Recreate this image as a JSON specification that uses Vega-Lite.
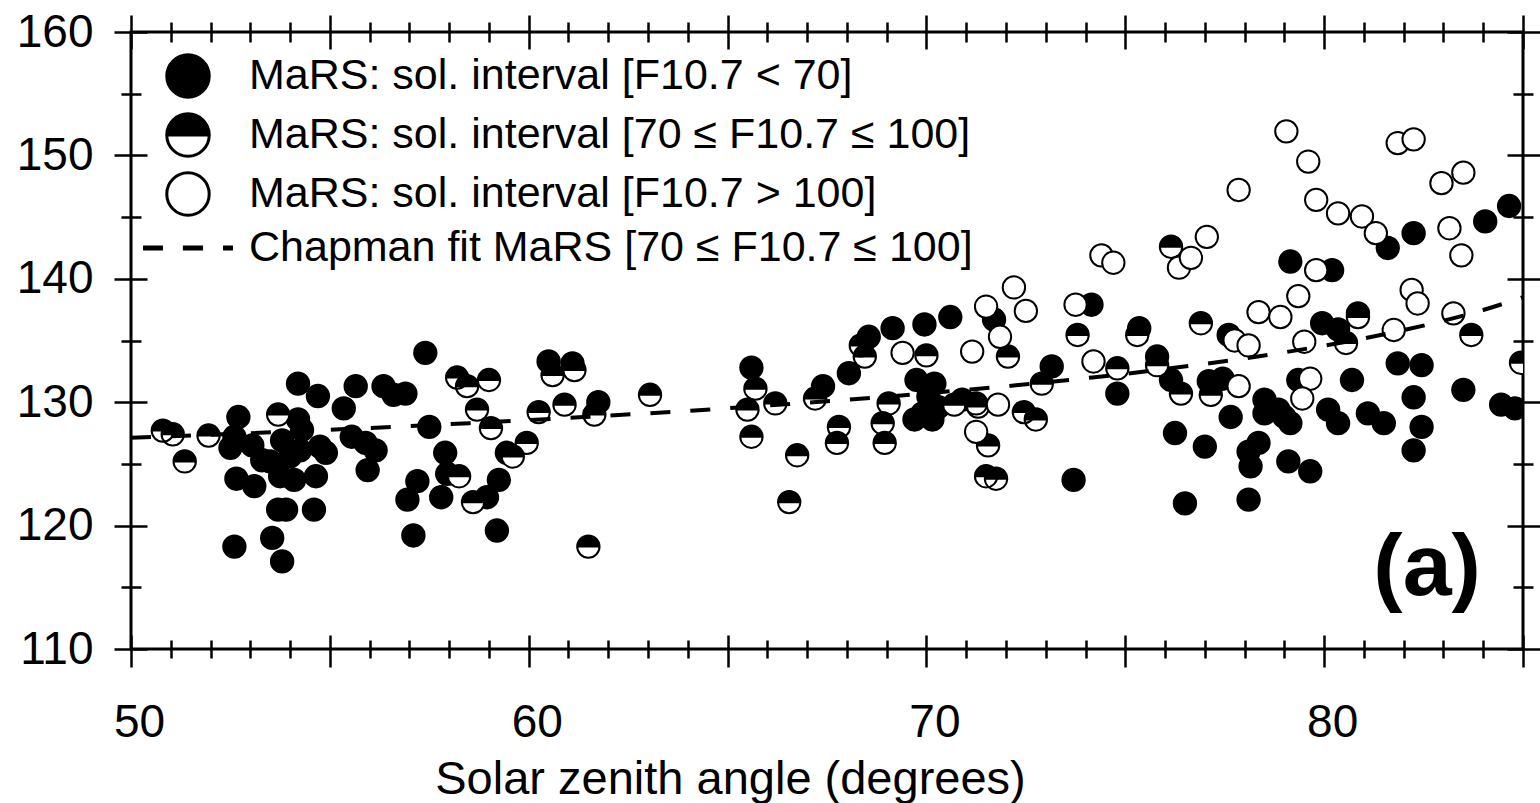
{
  "$schema": "https://vega.github.io/schema/vega-lite/v6.json",
  "width": 1392,
  "height": 617,
  "autosize": {"type": "none"},
  "padding": {"left": 131, "top": 32, "right": 17, "bottom": 154},
  "background": "white",
  "config": {
    "font": "Liberation Sans",
    "view": {"stroke": "black", "strokeWidth": 3},
    "axis": {"tickColor": "black", "tickWidth": 2.5, "labelColor": "black", "titleColor": "black", "domain": false, "grid": false, "tickCap": "butt"}
  },
  "datasets": {
    "pts": [
      {"sza": 52.7, "h": 128.8, "f": "lo"}, {"sza": 52.6, "h": 127.2, "f": "lo"}, {"sza": 53.05, "h": 126.5, "f": "lo"}, {"sza": 52.5, "h": 126.3, "f": "lo"},
      {"sza": 53.3, "h": 125.3, "f": "lo"}, {"sza": 52.65, "h": 123.8, "f": "lo"}, {"sza": 53.1, "h": 123.2, "f": "lo"}, {"sza": 53.5, "h": 125.2, "f": "lo"},
      {"sza": 53.7, "h": 121.3, "f": "lo"}, {"sza": 53.9, "h": 121.3, "f": "lo"}, {"sza": 54.6, "h": 121.3, "f": "lo"}, {"sza": 52.6, "h": 118.3, "f": "lo"},
      {"sza": 53.55, "h": 119.0, "f": "lo"}, {"sza": 53.8, "h": 117.1, "f": "lo"}, {"sza": 54.2, "h": 131.5, "f": "lo"}, {"sza": 54.7, "h": 130.5, "f": "lo"},
      {"sza": 55.65, "h": 131.3, "f": "lo"}, {"sza": 55.35, "h": 129.5, "f": "lo"}, {"sza": 56.35, "h": 131.3, "f": "lo"}, {"sza": 56.6, "h": 130.6, "f": "lo"},
      {"sza": 56.9, "h": 130.7, "f": "lo"}, {"sza": 57.4, "h": 134.0, "f": "lo"}, {"sza": 57.5, "h": 128.0, "f": "lo"}, {"sza": 57.9, "h": 125.9, "f": "lo"},
      {"sza": 57.2, "h": 123.6, "f": "lo"}, {"sza": 56.95, "h": 122.1, "f": "lo"}, {"sza": 57.1, "h": 119.2, "f": "lo"}, {"sza": 57.8, "h": 122.3, "f": "lo"},
      {"sza": 57.95, "h": 124.2, "f": "lo"}, {"sza": 59.2, "h": 119.6, "f": "lo"}, {"sza": 59.25, "h": 123.7, "f": "lo"}, {"sza": 58.95, "h": 122.3, "f": "lo"},
      {"sza": 59.45, "h": 125.9, "f": "lo"}, {"sza": 54.2, "h": 128.6, "f": "lo"}, {"sza": 54.3, "h": 127.75, "f": "lo"}, {"sza": 53.8, "h": 126.9, "f": "lo"},
      {"sza": 54.0, "h": 125.6, "f": "lo"}, {"sza": 54.25, "h": 126.1, "f": "lo"}, {"sza": 54.75, "h": 126.4, "f": "lo"}, {"sza": 54.9, "h": 125.9, "f": "lo"},
      {"sza": 54.1, "h": 123.7, "f": "lo"}, {"sza": 54.65, "h": 124.0, "f": "lo"}, {"sza": 53.75, "h": 124.0, "f": "lo"}, {"sza": 55.55, "h": 127.2, "f": "lo"},
      {"sza": 55.9, "h": 126.7, "f": "lo"}, {"sza": 56.15, "h": 126.1, "f": "lo"}, {"sza": 55.95, "h": 124.5, "f": "lo"},
      {"sza": 60.5, "h": 133.3, "f": "lo"}, {"sza": 61.1, "h": 133.15, "f": "lo"}, {"sza": 61.75, "h": 130.0, "f": "lo"}, {"sza": 65.6, "h": 132.8, "f": "lo"},
      {"sza": 67.4, "h": 131.3, "f": "lo"}, {"sza": 68.05, "h": 132.35, "f": "lo"}, {"sza": 68.55, "h": 135.3, "f": "lo"}, {"sza": 69.15, "h": 136.0, "f": "lo"},
      {"sza": 69.95, "h": 136.3, "f": "lo"}, {"sza": 70.6, "h": 136.9, "f": "lo"}, {"sza": 69.75, "h": 131.8, "f": "lo"}, {"sza": 70.2, "h": 131.5, "f": "lo"},
      {"sza": 69.9, "h": 129.1, "f": "lo"}, {"sza": 70.15, "h": 128.6, "f": "lo"}, {"sza": 70.3, "h": 129.6, "f": "lo"}, {"sza": 69.7, "h": 128.6, "f": "lo"},
      {"sza": 70.05, "h": 130.45, "f": "lo"}, {"sza": 71.7, "h": 136.7, "f": "lo"}, {"sza": 70.9, "h": 130.2, "f": "lo"},
      {"sza": 73.15, "h": 132.9, "f": "lo"}, {"sza": 74.15, "h": 137.9, "f": "lo"}, {"sza": 74.8, "h": 130.7, "f": "lo"}, {"sza": 75.35, "h": 136.0, "f": "lo"},
      {"sza": 75.8, "h": 133.7, "f": "lo"}, {"sza": 76.15, "h": 131.8, "f": "lo"}, {"sza": 76.25, "h": 127.5, "f": "lo"}, {"sza": 76.5, "h": 121.8, "f": "lo"},
      {"sza": 77.1, "h": 131.7, "f": "lo"}, {"sza": 77.0, "h": 126.4, "f": "lo"}, {"sza": 77.6, "h": 135.45, "f": "lo"}, {"sza": 77.65, "h": 128.8, "f": "lo"},
      {"sza": 78.1, "h": 126.0, "f": "lo"}, {"sza": 78.15, "h": 124.8, "f": "lo"}, {"sza": 78.1, "h": 122.1, "f": "lo"}, {"sza": 78.35, "h": 126.7, "f": "lo"},
      {"sza": 77.45, "h": 131.9, "f": "lo"}, {"sza": 78.5, "h": 130.2, "f": "lo"}, {"sza": 78.85, "h": 129.4, "f": "lo"}, {"sza": 79.15, "h": 128.3, "f": "lo"},
      {"sza": 79.0, "h": 128.8, "f": "lo"}, {"sza": 78.5, "h": 129.1, "f": "lo"}, {"sza": 79.1, "h": 125.2, "f": "lo"}, {"sza": 79.65, "h": 124.4, "f": "lo"},
      {"sza": 79.35, "h": 131.8, "f": "lo"}, {"sza": 79.95, "h": 136.4, "f": "lo"}, {"sza": 80.35, "h": 135.9, "f": "lo"}, {"sza": 80.85, "h": 137.2, "f": "lo"},
      {"sza": 80.7, "h": 131.8, "f": "lo"}, {"sza": 80.1, "h": 129.4, "f": "lo"}, {"sza": 80.35, "h": 128.3, "f": "lo"}, {"sza": 81.1, "h": 129.1, "f": "lo"},
      {"sza": 81.5, "h": 128.3, "f": "lo"}, {"sza": 81.85, "h": 133.15, "f": "lo"}, {"sza": 82.45, "h": 133.0, "f": "lo"}, {"sza": 82.25, "h": 130.4, "f": "lo"},
      {"sza": 82.45, "h": 128.0, "f": "lo"}, {"sza": 82.25, "h": 126.1, "f": "lo"}, {"sza": 83.5, "h": 131.0, "f": "lo"}, {"sza": 84.45, "h": 129.8, "f": "lo"},
      {"sza": 84.8, "h": 129.5, "f": "lo"}, {"sza": 73.7, "h": 123.7, "f": "lo"}, {"sza": 81.6, "h": 142.5, "f": "lo"}, {"sza": 82.25, "h": 143.7, "f": "lo"},
      {"sza": 84.05, "h": 144.65, "f": "lo"}, {"sza": 84.65, "h": 145.9, "f": "lo"}, {"sza": 79.15, "h": 141.4, "f": "lo"}, {"sza": 80.2, "h": 140.7, "f": "lo"},
      {"sza": 50.8, "h": 127.7, "f": "mid"}, {"sza": 51.05, "h": 127.4, "f": "mid"}, {"sza": 51.35, "h": 125.2, "f": "mid"}, {"sza": 51.95, "h": 127.3, "f": "mid"},
      {"sza": 53.7, "h": 129.0, "f": "mid"}, {"sza": 58.2, "h": 132.0, "f": "mid"}, {"sza": 58.45, "h": 131.3, "f": "mid"}, {"sza": 59.0, "h": 131.8, "f": "mid"},
      {"sza": 58.7, "h": 129.4, "f": "mid"}, {"sza": 59.05, "h": 127.9, "f": "mid"}, {"sza": 58.25, "h": 124.0, "f": "mid"}, {"sza": 58.6, "h": 121.9, "f": "mid"},
      {"sza": 59.95, "h": 126.7, "f": "mid"}, {"sza": 59.6, "h": 125.6, "f": "mid"},
      {"sza": 60.25, "h": 129.2, "f": "mid"}, {"sza": 60.6, "h": 132.2, "f": "mid"}, {"sza": 61.15, "h": 132.6, "f": "mid"}, {"sza": 60.9, "h": 129.8, "f": "mid"},
      {"sza": 61.65, "h": 129.0, "f": "mid"}, {"sza": 61.5, "h": 118.3, "f": "mid"}, {"sza": 63.05, "h": 130.6, "f": "mid"}, {"sza": 65.7, "h": 131.1, "f": "mid"},
      {"sza": 65.5, "h": 129.4, "f": "mid"}, {"sza": 65.6, "h": 127.2, "f": "mid"}, {"sza": 66.2, "h": 129.9, "f": "mid"}, {"sza": 66.55, "h": 121.9, "f": "mid"},
      {"sza": 66.75, "h": 125.7, "f": "mid"}, {"sza": 67.2, "h": 130.3, "f": "mid"}, {"sza": 68.35, "h": 134.6, "f": "mid"}, {"sza": 68.45, "h": 133.7, "f": "mid"},
      {"sza": 70.0, "h": 133.8, "f": "mid"}, {"sza": 69.05, "h": 129.9, "f": "mid"}, {"sza": 68.9, "h": 128.3, "f": "mid"}, {"sza": 68.95, "h": 126.7, "f": "mid"},
      {"sza": 67.8, "h": 128.0, "f": "mid"}, {"sza": 67.75, "h": 126.7, "f": "mid"}, {"sza": 72.05, "h": 133.7, "f": "mid"}, {"sza": 71.25, "h": 129.9, "f": "mid"},
      {"sza": 71.55, "h": 126.5, "f": "mid"}, {"sza": 71.5, "h": 124.0, "f": "mid"}, {"sza": 71.75, "h": 123.8, "f": "mid"}, {"sza": 70.7, "h": 129.8, "f": "mid"},
      {"sza": 71.3, "h": 129.65, "f": "mid"}, {"sza": 72.9, "h": 131.5, "f": "mid"}, {"sza": 72.45, "h": 129.2, "f": "mid"}, {"sza": 72.75, "h": 128.6, "f": "mid"},
      {"sza": 73.8, "h": 135.45, "f": "mid"}, {"sza": 74.8, "h": 132.75, "f": "mid"}, {"sza": 75.3, "h": 135.45, "f": "mid"}, {"sza": 75.8, "h": 133.0, "f": "mid"},
      {"sza": 76.4, "h": 130.7, "f": "mid"}, {"sza": 76.9, "h": 136.4, "f": "mid"}, {"sza": 77.15, "h": 130.6, "f": "mid"}, {"sza": 80.55, "h": 134.8, "f": "mid"},
      {"sza": 80.85, "h": 136.9, "f": "mid"}, {"sza": 83.7, "h": 135.45, "f": "mid"}, {"sza": 84.95, "h": 133.2, "f": "mid"}, {"sza": 76.15, "h": 142.6, "f": "mid"},
      {"sza": 69.4, "h": 134.0, "f": "hi"}, {"sza": 71.15, "h": 134.1, "f": "hi"}, {"sza": 71.5, "h": 137.75, "f": "hi"}, {"sza": 71.85, "h": 135.3, "f": "hi"},
      {"sza": 71.8, "h": 129.8, "f": "hi"}, {"sza": 71.25, "h": 127.6, "f": "hi"}, {"sza": 72.2, "h": 139.3, "f": "hi"}, {"sza": 72.5, "h": 137.4, "f": "hi"},
      {"sza": 73.75, "h": 137.9, "f": "hi"}, {"sza": 74.2, "h": 133.3, "f": "hi"}, {"sza": 77.75, "h": 135.0, "f": "hi"}, {"sza": 78.1, "h": 134.6, "f": "hi"},
      {"sza": 78.35, "h": 137.3, "f": "hi"}, {"sza": 78.9, "h": 136.9, "f": "hi"}, {"sza": 79.35, "h": 138.6, "f": "hi"}, {"sza": 77.85, "h": 131.3, "f": "hi"},
      {"sza": 79.65, "h": 131.9, "f": "hi"}, {"sza": 79.45, "h": 130.3, "f": "hi"}, {"sza": 79.5, "h": 134.9, "f": "hi"}, {"sza": 81.75, "h": 135.85, "f": "hi"},
      {"sza": 82.2, "h": 139.1, "f": "hi"}, {"sza": 82.35, "h": 138.0, "f": "hi"}, {"sza": 83.25, "h": 137.2, "f": "hi"}, {"sza": 79.05, "h": 151.95, "f": "hi"},
      {"sza": 79.6, "h": 149.5, "f": "hi"}, {"sza": 77.85, "h": 147.2, "f": "hi"}, {"sza": 81.85, "h": 151.0, "f": "hi"}, {"sza": 82.25, "h": 151.3, "f": "hi"},
      {"sza": 82.95, "h": 147.75, "f": "hi"}, {"sza": 83.5, "h": 148.6, "f": "hi"}, {"sza": 79.8, "h": 146.4, "f": "hi"}, {"sza": 80.35, "h": 145.3, "f": "hi"},
      {"sza": 80.95, "h": 145.05, "f": "hi"}, {"sza": 81.3, "h": 143.7, "f": "hi"}, {"sza": 83.15, "h": 144.1, "f": "hi"}, {"sza": 83.45, "h": 141.9, "f": "hi"},
      {"sza": 79.8, "h": 140.7, "f": "hi"}, {"sza": 76.35, "h": 140.9, "f": "hi"}, {"sza": 76.65, "h": 141.7, "f": "hi"}, {"sza": 77.05, "h": 143.4, "f": "hi"},
      {"sza": 74.4, "h": 141.9, "f": "hi"}, {"sza": 74.7, "h": 141.3, "f": "hi"}
    ],
    "fit": [
      {"sza": 50, "h": 127.12}, {"sza": 51, "h": 127.24}, {"sza": 52, "h": 127.37}, {"sza": 53, "h": 127.49}, {"sza": 54, "h": 127.63},
      {"sza": 55, "h": 127.77}, {"sza": 56, "h": 127.91}, {"sza": 57, "h": 128.06}, {"sza": 58, "h": 128.22}, {"sza": 59, "h": 128.38},
      {"sza": 60, "h": 128.55}, {"sza": 61, "h": 128.73}, {"sza": 62, "h": 128.91}, {"sza": 63, "h": 129.1}, {"sza": 64, "h": 129.3},
      {"sza": 65, "h": 129.51}, {"sza": 66, "h": 129.73}, {"sza": 67, "h": 129.96}, {"sza": 68, "h": 130.2}, {"sza": 69, "h": 130.45},
      {"sza": 70, "h": 130.72}, {"sza": 71, "h": 131.0}, {"sza": 72, "h": 131.29}, {"sza": 73, "h": 131.61}, {"sza": 74, "h": 131.95},
      {"sza": 75, "h": 132.3}, {"sza": 76, "h": 132.69}, {"sza": 77, "h": 133.1}, {"sza": 78, "h": 133.55}, {"sza": 79, "h": 134.04},
      {"sza": 80, "h": 134.58}, {"sza": 81, "h": 135.17}, {"sza": 82, "h": 135.84}, {"sza": 83, "h": 136.6}, {"sza": 84, "h": 137.47},
      {"sza": 85, "h": 138.51}
    ]
  },
  "layer": [
    {
      "data": {"name": "pts"},
      "transform": [{"filter": "datum.f === 'lo'"}],
      "mark": {"type": "point", "filled": true, "size": 500, "stroke": "black", "strokeWidth": 2, "opacity": 1, "clip": true},
      "encoding": {
        "x": {"field": "sza", "type": "quantitative", "scale": {"domain": [50, 85], "nice": false, "zero": false},
              "axis": {"orient": "bottom", "values": [51,52,53,54,56,57,58,59,61,62,63,64,66,67,68,69,71,72,73,74,76,77,78,79,81,82,83,84], "offset": -9, "tickSize": 18, "labels": false, "title": null}},
        "y": {"field": "h", "type": "quantitative", "scale": {"domain": [110, 160], "nice": false, "zero": false},
              "axis": {"orient": "left", "values": [115,125,135,145,155], "offset": -10, "tickSize": 20, "labels": false, "title": null}},
        "fill": {
          "field": "f", "type": "nominal",
          "scale": {"domain": ["lo", "mid", "hi", "fit"], "range": ["black", "black", "white", "black"]},
          "legend": {
            "title": null, "orient": "none", "legendX": 34, "legendY": 21, "padding": 0, "rowPadding": 3,
            "labelExpr": "datum.value === 'lo' ? 'MaRS: sol. interval [F10.7 < 70]' : datum.value === 'mid' ? 'MaRS: sol. interval [70 ≤ F10.7 ≤ 100]' : datum.value === 'hi' ? 'MaRS: sol. interval [F10.7 > 100]' : 'Chapman fit MaRS [70 ≤ F10.7 ≤ 100]'",
            "labelFont": "Liberation Sans", "labelFontSize": 43, "labelColor": "black", "labelOffset": 38, "labelLimit": 0,
            "symbolSize": 1800, "symbolStrokeWidth": 3, "symbolOpacity": 1
          }
        },
        "stroke": {
          "field": "f", "type": "nominal",
          "scale": {"domain": ["lo", "mid", "hi", "fit"], "range": ["black", "black", "black", "black"]},
          "legend": {
            "title": null, "orient": "none", "legendX": 34, "legendY": 21, "padding": 0, "rowPadding": 3,
            "labelExpr": "datum.value === 'lo' ? 'MaRS: sol. interval [F10.7 < 70]' : datum.value === 'mid' ? 'MaRS: sol. interval [70 ≤ F10.7 ≤ 100]' : datum.value === 'hi' ? 'MaRS: sol. interval [F10.7 > 100]' : 'Chapman fit MaRS [70 ≤ F10.7 ≤ 100]'",
            "labelFont": "Liberation Sans", "labelFontSize": 43, "labelColor": "black", "labelOffset": 38, "labelLimit": 0,
            "symbolSize": 1800, "symbolStrokeWidth": 3, "symbolOpacity": 1
          }
        },
        "shape": {
          "field": "f", "type": "nominal",
          "scale": {"domain": ["lo", "mid", "hi", "fit"], "range": [
            "circle",
            "M -1 0 A 1 1 0 0 1 1 0 Z M -1 0 A 1 1 0 0 0 1 0 A 1 1 0 0 1 -1 0 Z",
            "circle",
            "M -2.05 -0.05 L -1.25 -0.05 L -1.25 0.05 L -2.05 0.05 Z M -0.17 -0.05 L 0.64 -0.05 L 0.64 0.05 L -0.17 0.05 Z M 1.72 -0.05 L 2.05 -0.05 L 2.05 0.05 L 1.72 0.05 Z"
          ]},
          "legend": {
            "title": null, "orient": "none", "legendX": 34, "legendY": 21, "padding": 0, "rowPadding": 3,
            "labelExpr": "datum.value === 'lo' ? 'MaRS: sol. interval [F10.7 < 70]' : datum.value === 'mid' ? 'MaRS: sol. interval [70 ≤ F10.7 ≤ 100]' : datum.value === 'hi' ? 'MaRS: sol. interval [F10.7 > 100]' : 'Chapman fit MaRS [70 ≤ F10.7 ≤ 100]'",
            "labelFont": "Liberation Sans", "labelFontSize": 43, "labelColor": "black", "labelOffset": 38, "labelLimit": 0,
            "symbolSize": 1800, "symbolStrokeWidth": 3, "symbolOpacity": 1
          }
        }
      }
    },
    {
      "data": {"name": "pts"},
      "transform": [{"filter": "datum.f === 'mid'"}],
      "mark": {"type": "point", "shape": "circle", "filled": true, "size": 500, "fill": "white", "strokeWidth": 0, "opacity": 1, "clip": true},
      "encoding": {
        "x": {"field": "sza", "type": "quantitative", "scale": {"domain": [50, 85], "nice": false, "zero": false}, "axis": null},
        "y": {"field": "h", "type": "quantitative", "scale": {"domain": [110, 160], "nice": false, "zero": false}, "axis": null}
      }
    },
    {
      "data": {"name": "pts"},
      "transform": [{"filter": "datum.f === 'mid'"}],
      "mark": {"type": "point", "shape": "M -1 0 A 1 1 0 0 1 1 0 Z M -1 0 A 1 1 0 0 0 1 0 A 1 1 0 0 1 -1 0 Z", "filled": true, "size": 500, "fill": "black", "stroke": "black", "strokeWidth": 2, "opacity": 1, "clip": true},
      "encoding": {
        "x": {"field": "sza", "type": "quantitative", "scale": {"domain": [50, 85], "nice": false, "zero": false},
              "axis": {"orient": "top", "values": [50,55,60,65,70,75,80,85], "offset": -17, "tickSize": 34, "labels": false, "title": null}},
        "y": {"field": "h", "type": "quantitative", "scale": {"domain": [110, 160], "nice": false, "zero": false},
              "axis": {"orient": "right", "values": [110,120,130,140,150,160], "offset": -16, "tickSize": 33, "labels": false, "title": null}}
      }
    },
    {
      "data": {"name": "pts"},
      "transform": [{"filter": "datum.f === 'hi'"}],
      "mark": {"type": "point", "shape": "circle", "filled": true, "size": 500, "fill": "white", "stroke": "black", "strokeWidth": 2, "opacity": 1, "clip": true},
      "encoding": {
        "x": {"field": "sza", "type": "quantitative", "scale": {"domain": [50, 85], "nice": false, "zero": false},
              "axis": {"orient": "top", "values": [51,52,53,54,56,57,58,59,61,62,63,64,66,67,68,69,71,72,73,74,76,77,78,79,81,82,83,84], "offset": -10, "tickSize": 20, "labels": false, "title": null}},
        "y": {"field": "h", "type": "quantitative", "scale": {"domain": [110, 160], "nice": false, "zero": false},
              "axis": {"orient": "right", "values": [115,125,135,145,155], "offset": -10, "tickSize": 20, "labels": false, "title": null}}
      }
    },
    {
      "data": {"name": "fit"},
      "mark": {"type": "line", "stroke": "black", "strokeWidth": 4, "strokeDash": [20, 20], "interpolate": "monotone", "clip": true},
      "encoding": {
        "x": {"field": "sza", "type": "quantitative", "scale": {"domain": [50, 85], "nice": false, "zero": false},
              "axis": {"orient": "bottom", "values": [50,55,60,65,70,75,80,85], "offset": -14, "tickSize": 32,
                       "labelExpr": "datum.value % 10 === 0 ? datum.label : ''", "labelFont": "Liberation Sans", "labelFontSize": 46,
                       "labelPadding": 33, "labelFlush": false, "labelOverlap": false, "labelBound": false, "labelOffset": 8,
                       "title": "Solar zenith angle (degrees)", "titleFont": "Liberation Sans", "titleFontSize": 47, "titleFontWeight": "normal",
                       "titleX": 599, "titleY": 158, "titleAlign": "center", "titleBaseline": "alphabetic"}},
        "y": {"field": "h", "type": "quantitative", "scale": {"domain": [110, 160], "nice": false, "zero": false},
              "axis": {"orient": "left", "values": [110,120,130,140,150,160], "offset": -16, "tickSize": 33,
                       "labelFont": "Liberation Sans", "labelFontSize": 46, "labelPadding": 21, "labelFlush": false, "labelOverlap": false, "labelBound": false,
                       "title": null}}
      }
    },
    {
      "data": {"values": [{"label": "(a)"}]},
      "mark": {"type": "text", "font": "Liberation Sans", "fontSize": 88, "fontWeight": "bold", "align": "center", "baseline": "alphabetic", "fill": "black"},
      "encoding": {
        "text": {"field": "label", "type": "nominal"},
        "x": {"datum": 82.59, "type": "quantitative", "scale": {"domain": [50, 85], "nice": false, "zero": false}, "axis": null},
        "y": {"datum": 114.4, "type": "quantitative", "scale": {"domain": [110, 160], "nice": false, "zero": false}, "axis": null}
      }
    }
  ],
  "resolve": {"axis": {"x": "independent", "y": "independent"}}
}
